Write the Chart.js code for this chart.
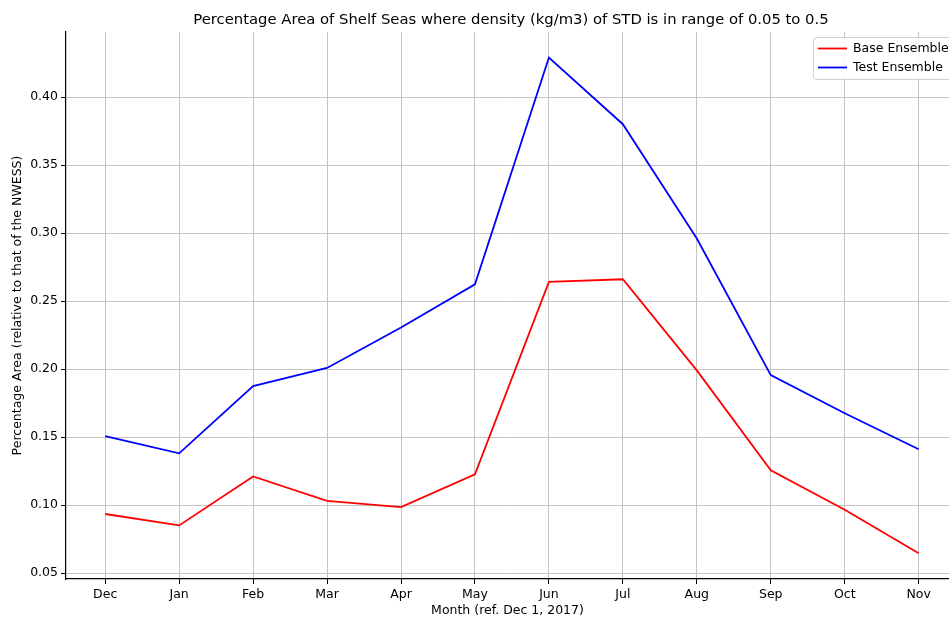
<!DOCTYPE html>
<html>
<head>
<meta charset="utf-8">
<script src="https://cdn.jsdelivr.net/npm/chart.js@4.4.0/dist/chart.umd.min.js"></script>
<style>
  html, body { margin: 0; padding: 0; background: #fff; }
  #wrap { width: 949px; height: 618px; }
</style>
</head>
<body>
<div id="wrap"><canvas id="chart" width="949" height="618"></canvas></div>
<script>
const months = ['Dec', 'Jan', 'Feb', 'Mar', 'Apr', 'May', 'Jun', 'Jul', 'Aug', 'Sep', 'Oct', 'Nov'];
const baseEnsemble = [0.0934, 0.085, 0.121, 0.103, 0.0985, 0.1225, 0.264, 0.266, 0.199, 0.1255, 0.0965, 0.0645];
const testEnsemble = [0.1507, 0.138, 0.1875, 0.2008, 0.2305, 0.2623, 0.429, 0.380, 0.296, 0.1955, 0.1675, 0.141];
const yTicks = [0.05, 0.10, 0.15, 0.20, 0.25, 0.30, 0.35, 0.40];

const FONT = 'DejaVu Sans';
const ctx = document.getElementById('chart').getContext('2d');

const toPoints = arr => arr.map((v, i) => ({ x: i, y: v }));

// title + legend box drawn inside the axes, matplotlib style
const mplDecor = {
  id: 'mplDecor',
  afterDraw(chart) {
    const c = chart.ctx;
    c.save();
    c.fillStyle = '#000';
    c.font = '14.8px "' + FONT + '"';
    c.textAlign = 'center';
    c.textBaseline = 'middle';
    c.fillText('Percentage Area of Shelf Seas where density (kg/m3) of STD is in range of 0.05 to 0.5', 511, 20);

    // legend
    const lx = 813, ly = 37, lw = 145, lh = 42;
    c.fillStyle = 'rgba(255,255,255,0.85)';
    c.strokeStyle = '#d0d0d0';
    c.lineWidth = 1;
    c.beginPath();
    c.roundRect(lx + 0.5, ly + 0.5, lw, lh, 3);
    c.fill();
    c.stroke();
    const items = [['Base Ensemble', 'red'], ['Test Ensemble', 'blue']];
    c.textAlign = 'left';
    c.font = '12.5px "' + FONT + '"';
    items.forEach((it, k) => {
      const yy = ly + 11.5 + k * 19;
      c.strokeStyle = it[1];
      c.lineWidth = 1.8;
      c.beginPath();
      c.moveTo(818, yy);
      c.lineTo(847, yy);
      c.stroke();
      c.fillStyle = '#000';
      c.fillText(it[0], 853, yy);
    });
    c.restore();
  }
};

const chart = new Chart(ctx, {
  type: 'line',
  data: {
    datasets: [
      {
        label: 'Base Ensemble',
        data: toPoints(baseEnsemble),
        borderColor: 'red',
        borderWidth: 1.8,
        pointRadius: 0,
        tension: 0,
        fill: false
      },
      {
        label: 'Test Ensemble',
        data: toPoints(testEnsemble),
        borderColor: 'blue',
        borderWidth: 1.8,
        pointRadius: 0,
        tension: 0,
        fill: false
      }
    ]
  },
  options: {
    responsive: false,
    animation: false,
    layout: { padding: { top: 32, left: 0, right: 0, bottom: 0 } },
    plugins: {
      legend: { display: false },
      tooltip: { enabled: false },
      title: { display: false }
    },
    scales: {
      x: {
        type: 'linear',
        min: -0.53,
        max: 11.41,
        afterBuildTicks: scale => { scale.ticks = months.map((m, i) => ({ value: i })); },
        afterFit: scale => { scale.height = 39; },
        ticks: {
          autoSkip: false,
          maxRotation: 0,
          color: '#000',
          font: { family: FONT, size: 12.5 },
          padding: 3,
          callback: v => months[v]
        },
        grid: { color: '#c4c4c4', lineWidth: 1, tickLength: 5, tickColor: '#000', drawOnChartArea: true },
        border: { color: '#000', width: 1.2 },
        title: {
          display: true,
          text: 'Month (ref. Dec 1, 2017)',
          color: '#000',
          font: { family: FONT, size: 12.5 },
          padding: { top: 0, bottom: 0 }
        }
      },
      y: {
        type: 'linear',
        min: 0.0456,
        max: 0.4478,
        afterBuildTicks: scale => { scale.ticks = yTicks.map(v => ({ value: v })); },
        afterFit: scale => { scale.width = 66; },
        ticks: {
          color: '#000',
          font: { family: FONT, size: 12.5 },
          padding: 3,
          callback: v => v.toFixed(2)
        },
        grid: { color: '#c4c4c4', lineWidth: 1, tickLength: 5, tickColor: '#000' },
        border: { color: '#000', width: 1.2 },
        title: {
          display: true,
          text: 'Percentage Area (relative to that of the NWESS)',
          color: '#000',
          font: { family: FONT, size: 12.5 },
          padding: { top: 10, bottom: 0 }
        }
      }
    }
  },
  plugins: [mplDecor]
});
</script>
</body>
</html>
